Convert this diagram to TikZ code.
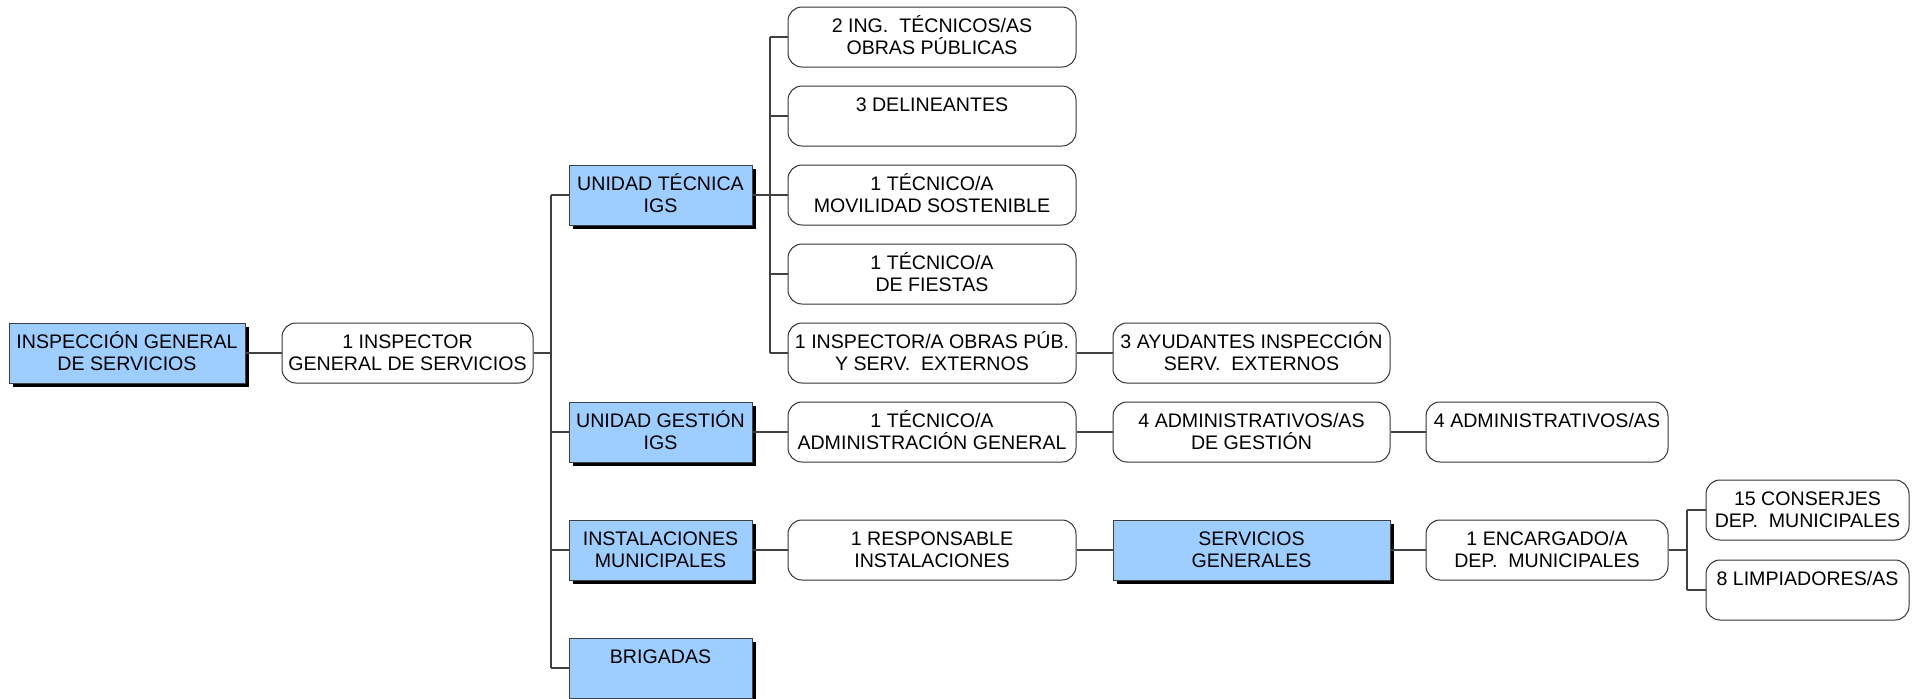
\documentclass[tikz,border=0pt]{standalone}
\usepackage{fontspec}
\setmainfont{Liberation Sans}
\usetikzlibrary{shadows}
\definecolor{unitblue}{RGB}{158,206,255}
\newcommand{\tstrut}{\rule[-2.05pt]{0pt}{11pt}}
\newcommand{\two}[2]{\tstrut#1\\\tstrut#2}
\newcommand{\one}[1]{\tstrut#1\\\tstrut}

\begin{document}
\begin{tikzpicture}[x=0.5pt,y=-0.5pt,
    font=\fontsize{9.8}{11}\selectfont,
    box/.style={align=center,inner sep=0pt,minimum height=30pt,line width=0.5pt},
    unit/.style={box,draw=black!75,fill=unitblue,
      drop shadow={shadow xshift=1.75pt,shadow yshift=-1.75pt,fill=black,opacity=1}},
    post/.style={box,draw=black!80,fill=white,rounded corners=7pt},
    link/.style={draw=black!75,line width=0.6pt}]
  \useasboundingbox (0,0) rectangle (1921,698);
  % head
  \node[unit,minimum width=118pt] (igs) at (127,353) {\two{INSPECCIÓN GENERAL}{DE SERVICIOS}};
  \node[post,minimum width=125.5pt] (insp) at (407.5,353) {\two{1 INSPECTOR}{GENERAL DE SERVICIOS}};
  % units
  \node[unit,minimum width=91.5pt] (ut) at (660.5,195) {\two{UNIDAD TÉCNICA}{IGS}};
  \node[unit,minimum width=91.5pt] (ug) at (660.5,432) {\two{UNIDAD GESTIÓN}{IGS}};
  \node[unit,minimum width=91.5pt] (im) at (660.5,550) {\two{INSTALACIONES}{MUNICIPALES}};
  \node[unit,minimum width=91.5pt] (bri) at (660.5,668) {\one{BRIGADAS}};
  % first column of posts
  \node[post,minimum width=144pt] (ing) at (932,37) {\two{2 ING.~~TÉCNICOS/AS}{OBRAS PÚBLICAS}};
  \node[post,minimum width=144pt] (del) at (932,116) {\one{3 DELINEANTES}};
  \node[post,minimum width=144pt] (mov) at (932,195) {\two{1 TÉCNICO/A}{MOVILIDAD SOSTENIBLE}};
  \node[post,minimum width=144pt] (fie) at (932,274) {\two{1 TÉCNICO/A}{DE FIESTAS}};
  \node[post,minimum width=144pt] (iop) at (932,353) {\two{1 INSPECTOR/A OBRAS PÚB.}{Y SERV.~~EXTERNOS}};
  \node[post,minimum width=144pt] (tag) at (932,432) {\two{1 TÉCNICO/A}{ADMINISTRACIÓN GENERAL}};
  \node[post,minimum width=144pt] (resp) at (932,550) {\two{1 RESPONSABLE}{INSTALACIONES}};
  % second column
  \node[post,minimum width=138.5pt] (ayu) at (1251.5,353) {\two{3 AYUDANTES INSPECCIÓN}{SERV.~~EXTERNOS}};
  \node[post,minimum width=138.5pt] (adg) at (1251.5,432) {\two{4 ADMINISTRATIVOS/AS}{DE GESTIÓN}};
  \node[unit,minimum width=138.5pt] (sg) at (1251.5,550) {\two{SERVICIOS}{GENERALES}};
  % third column
  \node[post,minimum width=121pt] (adm) at (1547,432) {\one{4 ADMINISTRATIVOS/AS}};
  \node[post,minimum width=121pt] (enc) at (1547,550) {\two{1 ENCARGADO/A}{DEP.~~MUNICIPALES}};
  % fourth column
  \node[post,minimum width=101.5pt] (con) at (1807.5,510) {\two{15 CONSERJES}{DEP.~~MUNICIPALES}};
  \node[post,minimum width=101.5pt] (lim) at (1807.5,590) {\one{8 LIMPIADORES/AS}};
  % trunks
  \coordinate (j1) at (551,0);
  \coordinate (j2) at (770,0);
  \coordinate (j3) at (1687,0);
  \draw[link] (igs) -- (insp);
  \draw[link] (insp) -- (insp -| j1);
  \draw[link] (ut -| j1) -- (bri -| j1);
  \foreach \u in {ut,ug,im,bri}
    \draw[link] (\u) -- (\u -| j1);
  \draw[link] (ut) -- (ut -| j2);
  \draw[link] (ing -| j2) -- (iop -| j2);
  \foreach \p in {ing,del,mov,fie,iop}
    \draw[link] (\p) -- (\p -| j2);
  \draw[link] (iop) -- (ayu);
  \draw[link] (ug) -- (tag);
  \draw[link] (tag) -- (adg);
  \draw[link] (adg) -- (adm);
  \draw[link] (im) -- (resp);
  \draw[link] (resp) -- (sg);
  \draw[link] (sg) -- (enc);
  \draw[link] (enc) -- (enc -| j3);
  \draw[link] (con -| j3) -- (lim -| j3);
  \foreach \p in {con,lim}
    \draw[link] (\p) -- (\p -| j3);
\end{tikzpicture}
\end{document}
